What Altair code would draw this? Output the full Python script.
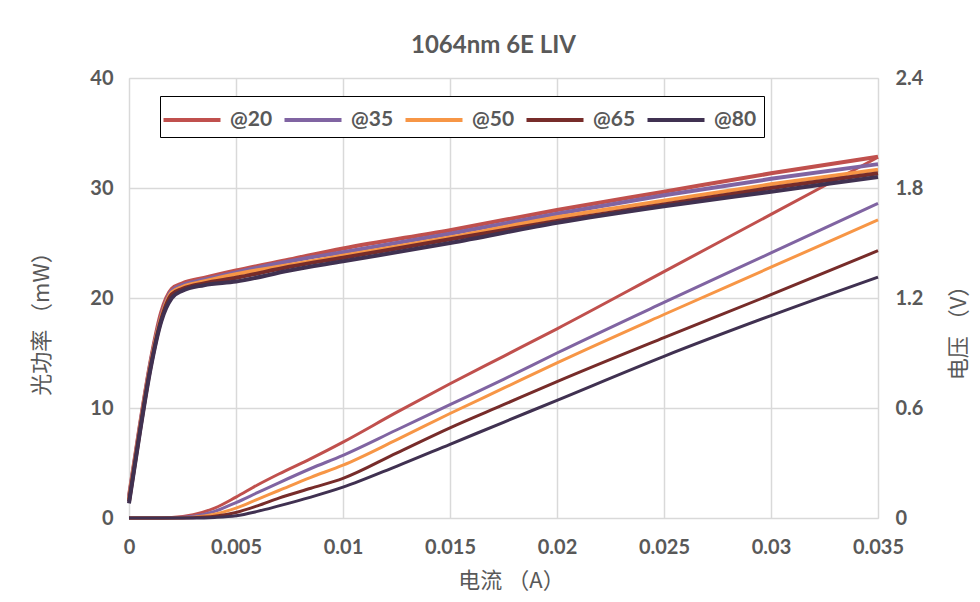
import altair as alt
import pandas as pd

series = ["@20", "@35", "@50", "@65", "@80"]
colors = ["#C0504D", "#8064A2", "#F79646", "#772C2A", "#403151"]

# Optical power (mW) vs current (A)
current_p = [0, 0.001, 0.002, 0.003, 0.004, 0.005, 0.006, 0.007, 0.0085, 0.01,
             0.0125, 0.015, 0.0175, 0.02, 0.025, 0.03, 0.035]
power_20 = [0, 0, 0.05, 0.3, 0.9, 1.9, 3.0, 4.0, 5.4, 6.9, 9.6, 12.2, 14.7, 17.2, 22.4, 27.6, 32.8]
power_35 = [0, 0, 0.02, 0.15, 0.6, 1.4, 2.3, 3.2, 4.5, 5.7, 8.0, 10.3, 12.6, 15.0, 19.6, 24.1, 28.6]
power_50 = [0, 0, 0, 0.08, 0.35, 0.9, 1.7, 2.5, 3.7, 4.8, 7.1, 9.5, 11.8, 14.1, 18.5, 22.8, 27.1]
power_65 = [0, 0, 0, 0.03, 0.15, 0.5, 1.1, 1.8, 2.7, 3.6, 5.9, 8.2, 10.3, 12.4, 16.4, 20.3, 24.3]
power_80 = [0, 0, 0, 0, 0.05, 0.2, 0.6, 1.1, 1.9, 2.8, 4.7, 6.7, 8.7, 10.7, 14.7, 18.4, 21.9]

# Voltage (V) vs current (A)
current_v = [0, 0.0005, 0.001, 0.0015, 0.002, 0.0025, 0.0035, 0.005, 0.0075, 0.01,
             0.015, 0.02, 0.025, 0.03, 0.035]
volt_20 = [0.12, 0.50, 0.85, 1.12, 1.25, 1.28, 1.31, 1.35, 1.41, 1.47, 1.57, 1.68, 1.78, 1.88, 1.97]
volt_35 = [0.11, 0.49, 0.84, 1.10, 1.24, 1.27, 1.30, 1.34, 1.40, 1.45, 1.55, 1.66, 1.76, 1.85, 1.93]
volt_50 = [0.10, 0.48, 0.83, 1.09, 1.23, 1.26, 1.29, 1.33, 1.38, 1.43, 1.53, 1.64, 1.73, 1.82, 1.90]
volt_65 = [0.09, 0.47, 0.82, 1.08, 1.22, 1.25, 1.28, 1.31, 1.37, 1.42, 1.52, 1.62, 1.71, 1.80, 1.88]
volt_80 = [0.08, 0.46, 0.81, 1.07, 1.20, 1.24, 1.27, 1.29, 1.35, 1.40, 1.50, 1.61, 1.70, 1.78, 1.86]

x_ticks = [0, 0.005, 0.01, 0.015, 0.02, 0.025, 0.03, 0.035]
p_ticks = [0, 10, 20, 30, 40]
v_ticks = [0, 0.6, 1.2, 1.8, 2.4]

powers = [power_20, power_35, power_50, power_65, power_80]
volts = [volt_20, volt_35, volt_50, volt_65, volt_80]

df_p = pd.DataFrame([
    {"I": i, "P": p, "T": s, "o": k}
    for s, vals in zip(series, powers) for k, (i, p) in enumerate(zip(current_p, vals))
])
df_v = pd.DataFrame([
    {"I": i, "V": v, "T": s, "o": k}
    for s, vals in zip(series, volts) for k, (i, v) in enumerate(zip(current_v, vals))
])

GRAY = "#595959"
GRID = "#D9D9D9"
LAT = "Lato"
CJK = "Noto Sans CJK SC"

color = alt.Color(
    "T:N",
    scale=alt.Scale(domain=series, range=colors),
    legend=alt.Legend(
        title=None, orient="none", legendX=31, legendY=18, direction="horizontal",
        symbolType="M-1.9,0H1.9", symbolStrokeWidth=4, symbolSize=900,
        symbolOffset=8,
        labelFont=LAT, labelFontSize=21, labelFontWeight="bold", labelColor=GRAY,
        labelOffset=21, columnPadding=3, padding=7,
        strokeColor="black", fillColor="white",
    ),
)

x_enc = alt.X(
    "I:Q",
    scale=alt.Scale(domain=[0, 0.035], nice=False),
    axis=alt.Axis(
        values=x_ticks, format=".3~f", grid=True, gridColor=GRID, gridWidth=1.5,
        domain=False, ticks=False, tickSize=0, labelFlush=False,
        labelFont=LAT, labelFontSize=20, labelFontWeight="bold", labelColor=GRAY,
        labelPadding=19,
        title="电流 （A）", titleFont=CJK, titleFontSize=22, titleFontWeight="normal",
        titleColor=GRAY, titleX=382, titleY=62, titleBaseline="middle",
    ),
)

power_layer = alt.Chart(df_p).mark_line(strokeWidth=3, interpolate="monotone").encode(
    x=x_enc,
    y=alt.Y(
        "P:Q",
        scale=alt.Scale(domain=[0, 40], nice=False),
        axis=alt.Axis(
            orient="left", values=p_ticks, grid=True, gridColor=GRID, gridWidth=1.5,
            domain=False, ticks=False, tickSize=0, labelFlush=False,
            labelFont=LAT, labelFontSize=20, labelFontWeight="bold", labelColor=GRAY,
            labelPadding=16,
            title="光功率 （mW）", titleFont=CJK, titleFontSize=22, titleFontWeight="normal",
            titleColor=GRAY, titleAngle=270, titleX=-88, titleY=240, titleBaseline="middle",
            titleAlign="center",
        ),
    ),
    color=color,
    order="o:Q",
)

volt_layer = alt.Chart(df_v).mark_line(strokeWidth=4, interpolate="monotone").encode(
    x=x_enc,
    y=alt.Y(
        "V:Q",
        scale=alt.Scale(domain=[0, 2.4], nice=False),
        axis=alt.Axis(
            orient="right", values=v_ticks, format=".1~f", grid=False,
            domain=False, ticks=False, tickSize=0, labelFlush=False,
            labelFont=LAT, labelFontSize=20, labelFontWeight="bold", labelColor=GRAY,
            labelPadding=17,
            title="电压 （V）", titleFont=CJK, titleFontSize=22, titleFontWeight="normal",
            titleColor=GRAY, titleAngle=270, titleX=80, titleY=249, titleBaseline="middle",
            titleAlign="center",
        ),
    ),
    color=color,
    order="o:Q",
)

chart = alt.layer(power_layer, volt_layer).resolve_scale(y="independent").properties(
    width=749,
    height=440,
    title=alt.TitleParams(
        "1064nm 6E LIV", font=LAT, fontSize=24, fontWeight="bold", color=GRAY,
        anchor="middle", dx=-10, offset=10,
    ),
    autosize=alt.AutoSizeParams(type="none"),
    padding={"left": 121, "top": 70, "right": 94, "bottom": 76},
).configure_view(stroke=None).configure(background="white")

chart.save("out.html", embed_options={"renderer": "svg", "actions": False})
